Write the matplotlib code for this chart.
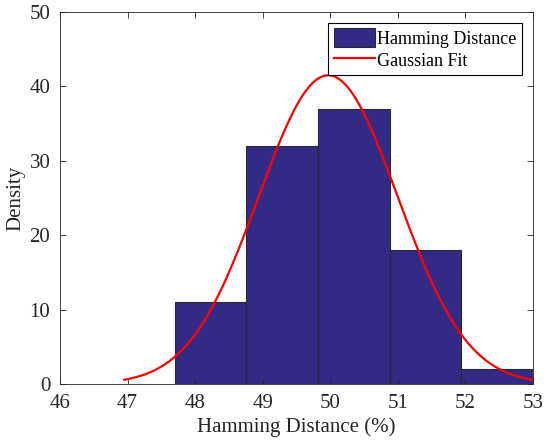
import numpy as np
import matplotlib.pyplot as plt

plt.rcParams['font.family'] = ['Liberation Serif', 'DejaVu Serif']

# histogram (density)
bin_edges = [47.70, 48.76, 49.82, 50.88, 51.94, 53.00]
densities = [11, 32, 37, 18, 2]

# gaussian fit parameters
fit_mu = 49.97
fit_sigma = 1.03
fit_peak = 41.5
fit_range = (46.95, 53.0)

fig = plt.figure(figsize=(5.51, 4.47), dpi=100)
ax = fig.add_axes([0.109, 0.141, 0.858, 0.832])

lefts = np.array(bin_edges[:-1])
widths = np.diff(bin_edges)
bars = ax.bar(lefts, densities, width=widths, align='edge', color='#332a86',
              edgecolor='#2a2a2a', linewidth=0.8, label='Hamming Distance')

xs = np.linspace(fit_range[0], fit_range[1], 300)
ys = fit_peak * np.exp(-(xs - fit_mu) ** 2 / (2 * fit_sigma ** 2))
line, = ax.plot(xs, ys, color='red', linewidth=1.6, label='Gaussian Fit')

ax.set_xlim(46, 53)
ax.set_ylim(0, 50)
ax.set_xticks(range(46, 54))
ax.set_yticks(range(0, 51, 10))
ax.tick_params(direction='in', top=True, right=True, labelsize=15, length=4,
               colors='#262626', width=0.6, pad=7)
for s in ax.spines.values():
    s.set_color('#262626')
    s.set_linewidth(0.6)
ax.set_xlabel('Hamming Distance (%)', fontsize=15, color='#262626', labelpad=3)
ax.set_ylabel('Density', fontsize=15, color='#262626', labelpad=3)

leg = ax.legend([bars, line], ['Hamming Distance', 'Gaussian Fit'],
                loc='upper right', fontsize=13, fancybox=False, framealpha=1,
                edgecolor='black', borderaxespad=0.6, handlelength=2.3,
                handleheight=1.2, handletextpad=0.1, borderpad=0.3,
                labelspacing=0.15)
leg.get_frame().set_linewidth(0.8)

fig.savefig('out.png', dpi=100)
